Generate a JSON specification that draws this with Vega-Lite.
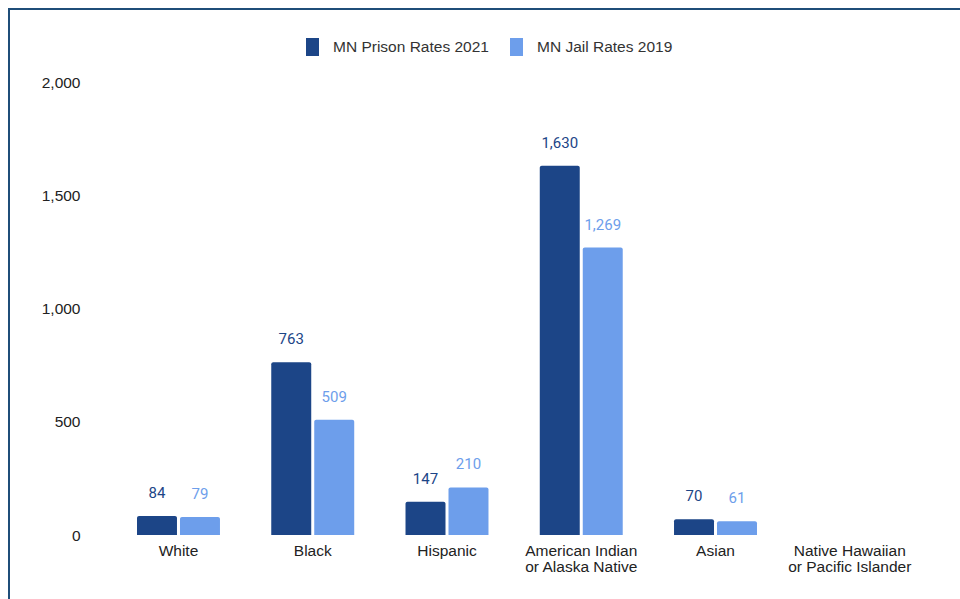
{
  "$schema": "https://vega.github.io/schema/vega-lite/v6.json",
  "width": 954,
  "height": 593,
  "autosize": {"type": "none"},
  "padding": {"left": 9, "top": 9, "right": -3, "bottom": -3},
  "background": "white",
  "config": {
    "view": {"stroke": "#1f4e79", "strokeWidth": 2},
    "font": "Liberation Sans",
    "axis": {"grid": false, "domain": false, "ticks": false, "title": null, "labelFontSize": 15.5, "labelColor": "#222222", "labelFont": "Liberation Sans"}
  },
  "data": {
    "values": [
      {"group": "White", "series": "MN Prison Rates 2021", "rate": 84},
      {"group": "White", "series": "MN Jail Rates 2019", "rate": 79},
      {"group": "Black", "series": "MN Prison Rates 2021", "rate": 763},
      {"group": "Black", "series": "MN Jail Rates 2019", "rate": 509},
      {"group": "Hispanic", "series": "MN Prison Rates 2021", "rate": 147},
      {"group": "Hispanic", "series": "MN Jail Rates 2019", "rate": 210},
      {"group": "American Indian or Alaska Native", "series": "MN Prison Rates 2021", "rate": 1630},
      {"group": "American Indian or Alaska Native", "series": "MN Jail Rates 2019", "rate": 1269},
      {"group": "Asian", "series": "MN Prison Rates 2021", "rate": 70},
      {"group": "Asian", "series": "MN Jail Rates 2019", "rate": 61},
      {"group": "Native Hawaiian or Pacific Islander", "series": "MN Prison Rates 2021", "rate": null},
      {"group": "Native Hawaiian or Pacific Islander", "series": "MN Jail Rates 2019", "rate": null}
    ]
  },
  "encoding": {
    "x": {
      "field": "group",
      "type": "nominal",
      "sort": null,
      "scale": {
        "domain": ["White", "Black", "Hispanic", "American Indian or Alaska Native", "Asian", "Native Hawaiian or Pacific Islander"],
        "range": [128, 882.25],
        "paddingInner": 0.382,
        "paddingOuter": 0
      },
      "axis": {
        "orient": "bottom",
        "offset": -67,
        "labelPadding": 8,
        "labelAngle": 0,
        "labelBaseline": "top",
        "labelLineHeight": 16,
        "labelExpr": "datum.label == 'American Indian or Alaska Native' ? ['American Indian', 'or Alaska Native'] : datum.label == 'Native Hawaiian or Pacific Islander' ? ['Native Hawaiian', 'or Pacific Islander'] : datum.label"
      }
    },
    "xOffset": {
      "field": "series",
      "type": "nominal",
      "scale": {"domain": ["MN Prison Rates 2021", "MN Jail Rates 2019"], "paddingInner": 0.07, "paddingOuter": 0}
    },
    "y": {
      "field": "rate",
      "type": "quantitative",
      "scale": {"domain": [-295.8, 2322.3], "nice": false, "zero": false},
      "axis": {
        "orient": "left",
        "offset": -75,
        "labelPadding": 4,
        "values": [0, 500, 1000, 1500, 2000],
        "format": ",.0f"
      }
    },
    "color": {
      "field": "series",
      "type": "nominal",
      "scale": {"domain": ["MN Prison Rates 2021", "MN Jail Rates 2019"], "range": ["#1c4587", "#6d9eeb"]}
    }
  },
  "layer": [
    {
      "mark": {"type": "bar", "cornerRadiusTopLeft": 2, "cornerRadiusTopRight": 2},
      "encoding": {
        "y2": {"datum": 0},
        "color": {
          "field": "series",
          "type": "nominal",
          "scale": {"domain": ["MN Prison Rates 2021", "MN Jail Rates 2019"], "range": ["#1c4587", "#6d9eeb"]},
          "legend": {
            "orient": "none",
            "legendX": 294.5,
            "legendY": 29,
            "direction": "horizontal",
            "title": null,
            "symbolType": "M-0.72,-1H0.72V1H-0.72Z",
            "symbolSize": 324,
            "symbolStrokeWidth": 0,
            "labelFontSize": 15.5,
            "labelFont": "Liberation Sans",
            "labelColor": "#333333",
            "labelOffset": 11.5,
            "columnPadding": 18
          }
        }
      }
    },
    {
      "mark": {"type": "text", "font": "Roboto", "fontSize": 15, "baseline": "middle", "dy": -23},
      "encoding": {
        "text": {"field": "rate", "type": "quantitative", "format": ",.0f"}
      }
    }
  ]
}
